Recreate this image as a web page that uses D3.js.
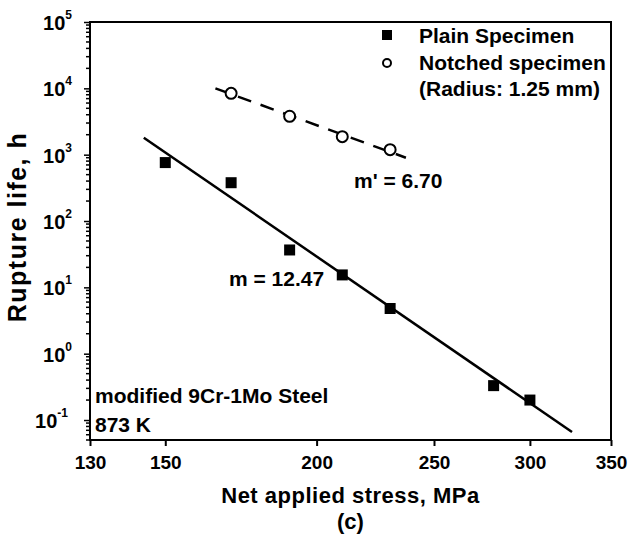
<!DOCTYPE html>
<html>
<head>
<meta charset="utf-8">
<script src="https://cdn.jsdelivr.net/npm/d3@7"></script>
<style>
    body { margin: 0; background: #fff; }
    text { font-family: "Liberation Sans", Arial, sans-serif; font-weight: bold; fill: #000; }
</style>
</head>
<body>
<div id="my_dataviz"></div>
<script>
// plain specimen data (stress in MPa, rupture life in h)
let plainStress = [150, 170, 190, 210, 230, 280, 300];
let plainLife = [760, 378, 36.6, 15.4, 4.8, 0.33, 0.2];

// notched specimen data
let notchStress = [170, 190, 210, 230];
let notchLife = [8400, 3790, 1870, 1190];

// fitted power-law lines, end points
let plainFit = [[144, 1800], [325, 0.066]];
let notchFit = [[165, 10000], [237, 900]];

let xTicks = [130, 150, 200, 250, 300, 350];
let yDecades = [-1, 0, 1, 2, 3, 4, 5];
let legendNames = ["Plain Specimen", "Notched specimen", "(Radius: 1.25 mm)"];

let margin = {top: 22, right: 17, bottom: 102, left: 90},
    width = 628 - margin.left - margin.right,
    height = 542 - margin.top - margin.bottom;

let svg = d3.select("#my_dataviz")
    .append("svg")
    .attr("width", width + margin.left + margin.right)
    .attr("height", height + margin.top + margin.bottom)
    .append("g")
    .attr("transform", "translate(" + margin.left + "," + margin.top + ")");

let x = d3.scaleLog()
    .domain([130, 350])
    .range([0, width]);

let y = d3.scaleLog()
    .domain([0.05, 1e5])
    .range([height, 0]);

// x axis
let xAxis = svg.append("g")
    .attr("transform", "translate(0," + height + ")")
    .call(d3.axisBottom(x).tickValues(xTicks).tickFormat(d3.format("d")).tickSize(6).tickSizeOuter(0));
xAxis.select(".domain").remove();
xAxis.selectAll("line").attr("stroke-width", 2);
xAxis.selectAll("text")
    .attr("dy", null)
    .attr("y", 29)
    .style("font-size", "19px")
    .style("font-family", "Liberation Sans, Arial, sans-serif")
    .style("font-weight", "bold");

// y axis, majors
let majors = yDecades.map(function (k) { return Math.pow(10, k) });
let yAxis = svg.append("g")
    .call(d3.axisLeft(y).tickValues(majors).tickFormat("").tickSize(6).tickSizeOuter(0));
yAxis.select(".domain").remove();
yAxis.selectAll("line").attr("stroke-width", 1.5);

// y axis, minors
let minors = [];
for (let k = -2; k <= 4; k++) {
    for (let m = 2; m <= 9; m++) {
        let v = m * Math.pow(10, k);
        if (v >= 0.05 && v <= 1e5) minors.push(v);
    }
}
svg.append("g")
    .selectAll("line")
    .data(minors)
    .enter()
    .append("line")
    .attr("x1", -4)
    .attr("x2", 0)
    .attr("y1", function (d) { return y(d) })
    .attr("y2", function (d) { return y(d) })
    .attr("stroke", "black")
    .attr("stroke-width", 1.5);

// y tick labels 10^k
let yLabels = svg.append("g")
    .selectAll("text")
    .data(yDecades)
    .enter()
    .append("text")
    .attr("x", function (d) { return d < 0 ? -22 : -18 })
    .attr("y", function (d) { return y(Math.pow(10, d)) + 8 })
    .attr("text-anchor", "end")
    .style("font-size", "20px")
    .text("10");
yLabels.append("tspan")
    .attr("dy", -11)
    .style("font-size", "12px")
    .text(function (d) { return d < 0 ? "-" + (-d) : d; });

// frame
svg.append("rect")
    .attr("x", 0)
    .attr("y", 0)
    .attr("width", width)
    .attr("height", height)
    .attr("fill", "none")
    .attr("stroke", "black")
    .attr("stroke-width", 2);

let line = d3.line()
    .x(function (d) { return x(d[0]) })
    .y(function (d) { return y(d[1]) });

svg.append("path")
    .datum(plainFit)
    .attr("d", line)
    .attr("stroke", "black")
    .attr("stroke-width", 2.5)
    .attr("fill", "none");

svg.append("path")
    .datum(notchFit)
    .attr("d", line)
    .attr("stroke", "black")
    .attr("stroke-width", 2.5)
    .attr("stroke-dasharray", "14,10")
    .attr("fill", "none");

// plain points
svg.append("g")
    .selectAll("rect")
    .data(plainStress)
    .enter()
    .append("rect")
    .attr("x", function (d) { return x(d) - 5.5 })
    .attr("y", function (d, i) { return y(plainLife[i]) - 5.5 })
    .attr("width", 11)
    .attr("height", 11)
    .attr("fill", "black");

// notched points
svg.append("g")
    .selectAll("circle")
    .data(notchStress)
    .enter()
    .append("circle")
    .attr("cx", function (d) { return x(d) })
    .attr("cy", function (d, i) { return y(notchLife[i]) })
    .attr("r", 5.5)
    .attr("fill", "white")
    .attr("stroke", "black")
    .attr("stroke-width", 2);

// annotations
svg.append("text")
    .attr("x", 139).attr("y", 264)
    .style("font-size", "21px")
    .text("m = 12.47");
svg.append("text")
    .attr("x", 264).attr("y", 166)
    .style("font-size", "21px")
    .text("m' = 6.70");
svg.append("text")
    .attr("x", 5).attr("y", 381)
    .style("font-size", "21px")
    .text("modified 9Cr-1Mo Steel");
svg.append("text")
    .attr("x", 5).attr("y", 410)
    .style("font-size", "21px")
    .text("873 K");

// legend
let legend = svg.append("g").attr("transform", "translate(297,0)");
legend.append("rect")
    .attr("x", -5).attr("y", 8)
    .attr("width", 10).attr("height", 10)
    .attr("fill", "black");
legend.append("circle")
    .attr("cx", 0).attr("cy", 41)
    .attr("r", 4)
    .attr("fill", "white")
    .attr("stroke", "black")
    .attr("stroke-width", 2);
legend.selectAll("text.leg")
    .data(legendNames)
    .enter()
    .append("text")
    .attr("class", "leg")
    .attr("x", 32)
    .attr("y", function (d, i) { return 21 + i * 26.5 })
    .style("font-size", "21px")
    .text(function (d) { return d });

// axis titles
svg.append("text")
    .attr("x", width / 2)
    .attr("y", height + 63)
    .attr("text-anchor", "middle")
    .style("font-size", "22px")
    .style("letter-spacing", "0.5px")
    .text("Net applied stress, MPa");
svg.append("text")
    .attr("x", width / 2)
    .attr("y", height + 89)
    .attr("text-anchor", "middle")
    .style("font-size", "22px")
    .text("(c)");
svg.append("text")
    .attr("transform", "translate(-64,205) rotate(-90)")
    .attr("text-anchor", "middle")
    .style("font-size", "25px")
    .style("letter-spacing", "1.5px")
    .text("Rupture life, h");
</script>
</body>
</html>
